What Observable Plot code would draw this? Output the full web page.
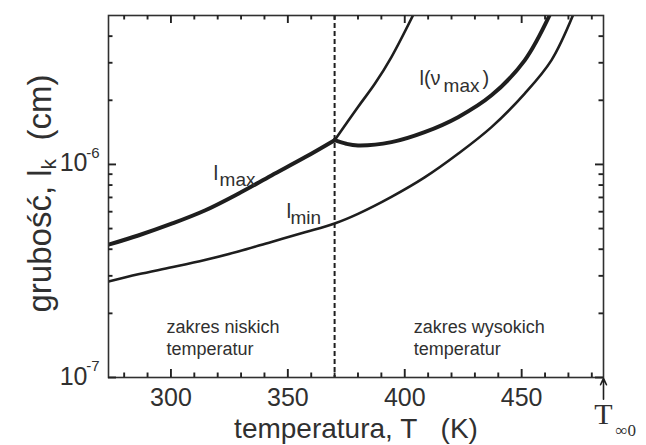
<!DOCTYPE html>
<html><head><meta charset="utf-8">
<script src="https://cdn.jsdelivr.net/npm/d3@7"></script>
<script src="https://cdn.jsdelivr.net/npm/@observablehq/plot@0.6"></script>
<style>body{margin:0;background:#fff;} #chart svg{display:block;}</style>
</head><body><div id="chart"></div>
<script>
// ---- data ----
const xDomain = [273.3, 485];
const yDomain = [1e-7, 5e-6];
const xMajorTicks = [300, 350, 400, 450];
const xMinorTicks = [280, 290, 310, 320, 330, 340, 360, 370, 380, 390, 410, 420, 430, 440, 460, 470, 480];
const yMajorTicks = [1e-7, 1e-6];
const yMajorExponents = [-7, -6];
const yMinorTicks = [2e-7, 3e-7, 4e-7, 5e-7, 6e-7, 7e-7, 8e-7, 9e-7, 2e-6, 3e-6, 4e-6];
const boundaryT = [370];
const tInf0 = [485];

// l_min (thin)
const lminT = [273.3, 286, 300.3, 314.5, 328.8, 343, 357.3, 370, 380, 394.3, 408.5, 422.8, 437.1, 451.3, 462.7, 471.9];
const lminV = [2.82e-7, 3.05e-7, 3.29e-7, 3.56e-7, 3.90e-7, 4.33e-7, 4.80e-7, 5.28e-7, 5.86e-7, 7.04e-7, 8.69e-7, 1.122e-6, 1.497e-6, 2.15e-6, 3.08e-6, 5.0e-6];
// l_max, low-temperature branch (thick)
const lmaxLowT = [273.3, 286, 300.3, 314.5, 328.8, 343, 357.3, 370];
const lmaxLowV = [4.20e-7, 4.64e-7, 5.27e-7, 6.08e-7, 7.29e-7, 8.88e-7, 1.08e-6, 1.30e-6];
// l_max, high-temperature branch (thin)
const lmaxHighT = [370, 380, 387.2, 394.3, 403.5];
const lmaxHighV = [1.30e-6, 1.86e-6, 2.39e-6, 3.19e-6, 5.0e-6];
// l(nu_max) (thick)
const lvmaxT = [370, 375, 380, 394.3, 408.5, 422.8, 437.1, 451.3, 461.9];
const lvmaxV = [1.30e-6, 1.25e-6, 1.228e-6, 1.273e-6, 1.418e-6, 1.667e-6, 2.11e-6, 3.08e-6, 5.0e-6];

// text labels
const curveLabelText = ["l", "max", "l", "min", "l(\u03bd", "max", ")"];
const curveLabelT = [318.2, 320.8, 349.4, 351.1, 406.3, 416.6, 433.2];
const curveLabelV = [8.41e-7, 7.96e-7, 5.58e-7, 5.28e-7, 2.35e-6, 2.18e-6, 2.35e-6];
const curveLabelSize = [21, 19, 21, 19, 20, 19, 20];
const regionText = ["zakres niskich\ntemperatur", "zakres wysokich\ntemperatur"];
const regionT = [298.1, 403.8];
const regionV = [1.93e-7, 1.93e-7];
const xTitle = "temperatura, T\u00a0\u00a0\u00a0(K)";
const yTitleParts = ["grubo\u015b\u0107, l", "k", "\u00a0\u00a0(cm)"];

// ---- build tables ----
const mk = (name, T, V) => T.map((t, i) => ({series: name, T: t, l: V[i]}));
const thick = [...mk("lmax", lmaxLowT, lmaxLowV), ...mk("lvmax", lvmaxT, lvmaxV)];
const thin = [...mk("lmin", lminT, lminV), ...mk("lmaxHigh", lmaxHighT, lmaxHighV)];
const curveLabels = curveLabelText.map((s, i) => ({s, T: curveLabelT[i], l: curveLabelV[i], size: curveLabelSize[i]}));
const regions = regionText.map((s, i) => ({s, T: regionT[i], l: regionV[i]}));

const W = 646, H = 445, mL = 108, mR = 43, mT = 15, mB = 68;
const innerW = W - mL - mR, innerH = H - mT - mB;
const major = 8, minor = 4.5;

const ctx = document.createElement("canvas").getContext("2d");
function tw(s, size) { ctx.font = `${size}px "Liberation Sans"`; return ctx.measureText(s).width; }
const yTitleSize = 33, yTitleSub = 21;
const yStart = 116; // px below frame middle
const w1 = tw(yTitleParts[0], yTitleSize), wk = tw(yTitleParts[1], yTitleSub);

const ink = "#1e1e1e", txt = "#303030";
const F = "Liberation Sans, Arial, sans-serif";
const tk = {stroke: "#222", strokeWidth: 1.9};

const chart = Plot.plot({
  width: W, height: H,
  marginLeft: mL, marginRight: mR, marginTop: mT, marginBottom: mB,
  style: {fontFamily: F, color: txt, background: "#fff"},
  x: {type: "linear", domain: xDomain},
  y: {type: "log", domain: yDomain, axis: null},
  marks: [
    Plot.ruleX(boundaryT, {stroke: ink, strokeWidth: 2, strokeDasharray: "5,3"}),
    Plot.line(thin, {x: "T", y: "l", z: "series", stroke: ink, strokeWidth: 2.6, curve: "catmull-rom", clip: true}),
    Plot.line(thick, {x: "T", y: "l", z: "series", stroke: ink, strokeWidth: 4, curve: "catmull-rom", clip: true}),
    Plot.frame({stroke: txt, strokeWidth: 1.6}),
    // inward ticks on all four sides
    Plot.tickX(xMajorTicks, {x: d => d, insetTop: innerH - major, ...tk}),
    Plot.tickX(xMinorTicks, {x: d => d, insetTop: innerH - minor, ...tk}),
    Plot.tickX(xMajorTicks, {x: d => d, insetBottom: innerH - major, ...tk}),
    Plot.tickX(xMinorTicks, {x: d => d, insetBottom: innerH - minor, ...tk}),
    Plot.tickY(yMajorTicks, {y: d => d, insetRight: innerW - major, ...tk}),
    Plot.tickY(yMinorTicks, {y: d => d, insetRight: innerW - minor, ...tk}),
    Plot.tickY(yMajorTicks, {y: d => d, insetLeft: innerW - major, ...tk}),
    Plot.tickY(yMinorTicks, {y: d => d, insetLeft: innerW - minor, ...tk}),
    // x tick labels
    Plot.axisX(xMajorTicks, {anchor: "bottom", tickSize: 0, tickPadding: 11, fontSize: 25, label: null, fill: txt}),
    // y tick labels 10^n
    Plot.text(yMajorExponents, {y: d => 10 ** d, frameAnchor: "left", text: () => "10", textAnchor: "end", lineAnchor: "middle", dx: -21, dy: -1, fontSize: 25, fill: txt}),
    Plot.text(yMajorExponents, {y: d => 10 ** d, frameAnchor: "left", text: d => String(d), textAnchor: "end", lineAnchor: "middle", dx: -9, dy: -11, fontSize: 15, fill: txt}),
    // titles
    Plot.text([xTitle], {frameAnchor: "bottom", text: d => d, lineAnchor: "bottom", dy: 60, fontSize: 28, fill: txt}),
    Plot.text([yTitleParts[0]], {frameAnchor: "left", text: d => d, rotate: -90, textAnchor: "start", lineAnchor: "middle", dx: -68, dy: yStart, fontSize: yTitleSize, fill: txt}),
    Plot.text([yTitleParts[1]], {frameAnchor: "left", text: d => d, rotate: -90, textAnchor: "start", lineAnchor: "middle", dx: -59, dy: yStart - w1, fontSize: yTitleSub, fill: txt}),
    Plot.text([yTitleParts[2]], {frameAnchor: "left", text: d => d, rotate: -90, textAnchor: "start", lineAnchor: "middle", dx: -68, dy: yStart - w1 - wk, fontSize: yTitleSize, fill: txt}),
    // curve labels
    Plot.text(curveLabels, {x: "T", y: "l", text: "s", fontSize: d => d.size, textAnchor: "start", lineAnchor: "bottom", fill: txt}),
    Plot.text(regions, {x: "T", y: "l", text: "s", fontSize: 18, textAnchor: "start", lineAnchor: "top", lineHeight: 1.25, fill: txt}),
    // T_inf0 marker
    Plot.arrow(tInf0, {x1: d => d, x2: d => d, y1: 7.9e-8, y2: 0.99e-7, stroke: ink, strokeWidth: 1.6, headLength: 7, headAngle: 50}),
    Plot.text(tInf0, {x: d => d, frameAnchor: "bottom", text: () => "T", textAnchor: "middle", lineAnchor: "bottom", dy: 46, fontSize: 30, fontFamily: "Liberation Serif, serif", fill: txt}),
    Plot.text(tInf0, {x: d => d, frameAnchor: "bottom", text: () => "\u221e0", textAnchor: "start", lineAnchor: "bottom", dx: 12, dy: 58, fontSize: 17, fontFamily: "Liberation Serif, serif", fill: txt})
  ]
});
document.getElementById("chart").append(chart);
</script>
</body></html>
